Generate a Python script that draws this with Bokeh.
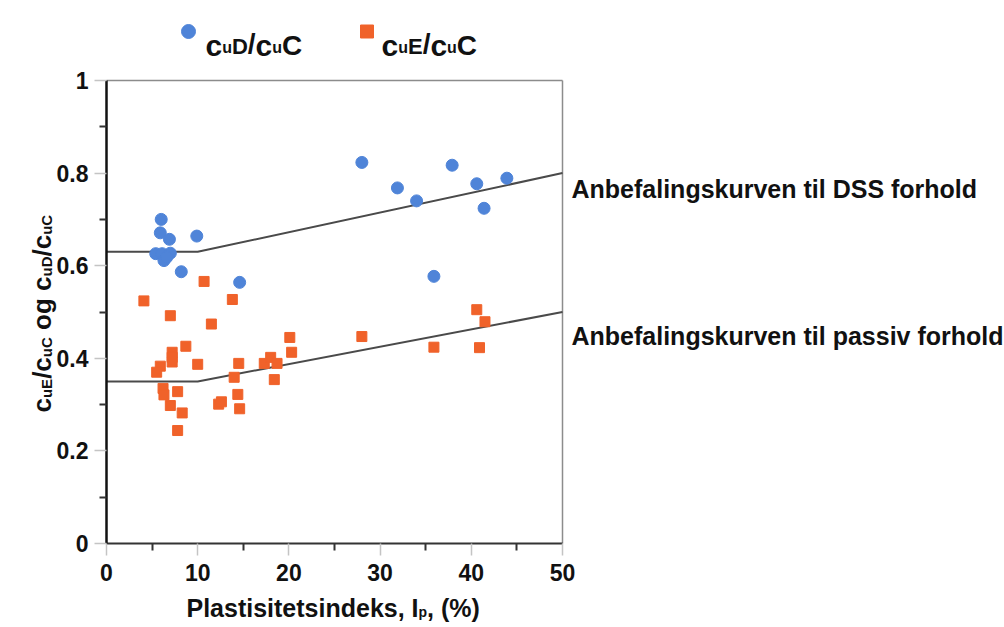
import math

from bokeh.embed import file_html
from bokeh.models import FixedTicker, Label, NumeralTickFormatter, Range1d
from bokeh.plotting import figure
from bokeh.resources import INLINE

# Plasticity index Ip (%) and measured strength ratios
dss_ip = [6.0, 5.9, 6.9, 9.9, 5.4, 6.1, 7.0, 6.3, 6.6, 8.2, 14.6,
          28.0, 37.9, 31.9, 34.0, 40.6, 43.9, 41.4, 35.9]
dss_ratio = [0.700, 0.671, 0.657, 0.664, 0.626, 0.626, 0.627, 0.611, 0.618, 0.587, 0.564,
             0.823, 0.817, 0.768, 0.740, 0.777, 0.789, 0.724, 0.577]

ext_ip = [10.7, 4.1, 13.8, 7.0, 11.5, 20.1, 20.3, 8.7, 7.2, 7.2, 7.2, 10.0,
          5.9, 5.5, 14.5, 14.0, 17.3, 18.0, 18.7, 18.4, 6.2, 6.3, 7.8, 7.0,
          8.3, 12.3, 12.6, 14.4, 14.6, 7.8, 40.6, 41.5, 28.0, 35.9, 40.9]
ext_ratio = [0.566, 0.524, 0.527, 0.492, 0.474, 0.445, 0.413, 0.426, 0.413, 0.402, 0.392, 0.387,
             0.383, 0.370, 0.389, 0.359, 0.389, 0.402, 0.389, 0.354, 0.335, 0.321, 0.328, 0.298,
             0.282, 0.301, 0.306, 0.322, 0.291, 0.244, 0.505, 0.479, 0.447, 0.424, 0.423]

# Recommended design curves
curve_ip = [0, 10, 50]
dss_curve = [0.63, 0.63, 0.80]
passive_curve = [0.35, 0.35, 0.50]

x_ticks = [0, 10, 20, 30, 40, 50]
x_minor = [5, 15, 25, 35, 45]
y_ticks = [0, 0.2, 0.4, 0.6, 0.8, 1.0]
y_minor = [0.1, 0.3, 0.5, 0.7, 0.9]

X_MAX = 50
Y_MAX = 1.0

BLUE = "#4f84d8"
ORANGE = "#f0622a"
FONT = "Liberation Sans"

# The frame fills the whole canvas; the axes sit at Ip = 0 and ratio = 0.
W, H = 1004, 627
LEFT, RIGHT, BOTTOM_PX, PX_PER_UNIT = 106, 562, 543, 463
PX_PER_IP = (RIGHT - LEFT) / X_MAX

x_range = Range1d(-LEFT / PX_PER_IP, X_MAX + (W - RIGHT) / PX_PER_IP)
y_range = Range1d(-(H - BOTTOM_PX) / PX_PER_UNIT, BOTTOM_PX / PX_PER_UNIT)

p = figure(width=W, height=H, output_backend="svg", toolbar_location=None,
           x_range=x_range, y_range=y_range,
           min_border=0, min_border_left=0, min_border_right=0,
           min_border_top=0, min_border_bottom=0)
p.outline_line_color = None
p.xgrid.visible = False
p.ygrid.visible = False
p.background_fill_color = "white"
p.border_fill_color = "white"


def dx(px):
    return (px - LEFT) / PX_PER_IP


def dy(py):
    return (BOTTOM_PX - py) / PX_PER_UNIT


# axes
for ax in (p.xaxis[0], p.yaxis[0]):
    ax.fixed_location = 0
    ax.major_tick_out = 12
    ax.major_tick_in = 0
    ax.minor_tick_out = 7
    ax.minor_tick_in = 0
    ax.major_tick_line_color = "#c4c4c4"
    ax.major_tick_line_width = 1.5
    ax.minor_tick_line_color = "#333333"
    ax.minor_tick_line_width = 2
    ax.major_label_text_font = FONT
    ax.major_label_text_font_style = "bold"
    ax.major_label_text_font_size = "23px"
    ax.major_label_text_color = "#111111"

p.xaxis.major_label_standoff = 8
p.yaxis.major_label_standoff = 6
p.xaxis.ticker = FixedTicker(ticks=x_ticks, minor_ticks=x_minor)
p.yaxis.ticker = FixedTicker(ticks=y_ticks, minor_ticks=y_minor)
p.yaxis.formatter = NumeralTickFormatter(format="0.[0]")
p.xaxis.bounds = (0, X_MAX)
p.yaxis.bounds = (0, Y_MAX)
p.xaxis.axis_line_color = "#333333"
p.xaxis.axis_line_width = 2
p.yaxis.axis_line_color = "#111111"
p.yaxis.axis_line_width = 2.5

# top and right frame edges
p.segment(x0=[0, X_MAX], y0=[Y_MAX, 0], x1=[X_MAX, X_MAX], y1=[Y_MAX, Y_MAX],
          line_color="#8c8c8c", line_width=1.5)

# design curves
p.line(curve_ip, dss_curve, line_color="#4a4a4a", line_width=2)
p.line(curve_ip, passive_curve, line_color="#4a4a4a", line_width=2)

# measurements
p.scatter(dss_ip, dss_ratio, marker="circle", size=12, fill_color=BLUE, line_color=BLUE)
p.scatter(ext_ip, ext_ratio, marker="square", size=10, fill_color=ORANGE, line_color=ORANGE)

# legend markers
p.scatter([dx(188)], [dy(31)], marker="circle", size=14, fill_color=BLUE, line_color=BLUE)
p.scatter([dx(366.5)], [dy(31)], marker="square", size=13, fill_color=ORANGE, line_color=ORANGE)

# advance widths of Liberation Sans Bold, in em
ADV = {"c": .556, "u": .611, "D": .722, "E": .667, "C": .722, "/": .278, "o": .611,
       "g": .611, " ": .278, "P": .667, "l": .278, "a": .556, "s": .556, "t": .333,
       "i": .278, "e": .556, "n": .611, "d": .611, "k": .556, ",": .278, "I": .278,
       "p": .611, "(": .333, "%": .889, ")": .333}


def run_width(text, size):
    return sum(ADV.get(ch, .6) for ch in text) * size


def write_runs(runs, px, py, vertical=False):
    """Write text pieces (text, size, baseline shift) one after the other."""
    pos = 0.0
    for text, size, shift in runs:
        body = text.lstrip(" ")
        pos += run_width(text[:len(text) - len(body)], size)
        if vertical:
            lab = Label(x=dx(px + shift), y=dy(py - pos), angle=math.pi / 2)
        else:
            lab = Label(x=dx(px + pos), y=dy(py + shift))
        lab.text = body
        lab.text_font = FONT
        lab.text_font_style = "bold"
        lab.text_font_size = f"{size}px"
        lab.text_color = "#111111"
        lab.text_align = "left"
        lab.text_baseline = "alphabetic"
        p.add_layout(lab)
        pos += run_width(body, size)


# legend texts
write_runs([("c", 30, 0), ("u", 16, 2), ("D", 22, 1), ("/", 28, -2),
            ("c", 30, 0), ("u", 16, 2), ("C", 28, 0)], 205, 45)
write_runs([("c", 30, 0), ("u", 16, 2), ("E", 22, 1), ("/", 28, -2),
            ("c", 30, 0), ("u", 16, 2), ("C", 28, 0)], 381, 45)

# y axis title
write_runs([("c", 26, 0), ("uE", 15, 5), ("/c", 26, 0), ("uC", 15, 5),
            (" og c", 26, 0), ("uD", 15, 5), ("/c", 26, 0), ("uC", 15, 5)],
           41, 412, vertical=True)

# x axis title
write_runs([("Plastisitetsindeks, I", 25, 0), ("p", 14, 4), (", (%)", 25, 0)], 186, 607)

# curve names
write_runs([("Anbefalingskurven til DSS forhold", 25, 0)], 571, 188)
write_runs([("Anbefalingskurven til passiv forhold", 25, 0)], 571, 335)

open("out.html", "w").write(file_html(p, INLINE))
